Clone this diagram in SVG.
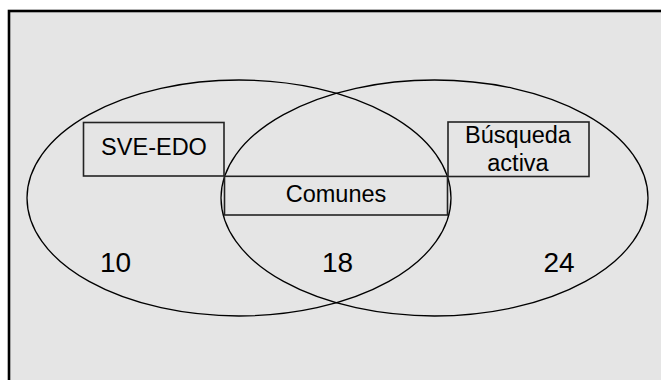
<svg xmlns="http://www.w3.org/2000/svg" width="661" height="380" viewBox="0 0 661 380">
<style>
.frame{fill:#e5e5e5;stroke:#000;stroke-width:2.6}
.set{fill:none;stroke:#000;stroke-width:1.3}
.box{fill:#e5e5e5;stroke:#222;stroke-width:1.6}
.lbl{font-family:"Liberation Sans",Arial,sans-serif;font-size:23.5px;fill:#000;text-anchor:middle}
.num{font-family:"Liberation Sans",Arial,sans-serif;font-size:28px;fill:#000;text-anchor:middle}
</style>
<rect class="frame" x="9" y="11" width="670" height="390"/>
<g id="sets">
<ellipse id="set-sve" class="set" cx="239" cy="198" rx="212" ry="118"/>
<ellipse id="set-busqueda" class="set" cx="434.5" cy="198" rx="213.5" ry="118"/>
</g>
<g id="node-sve">
<rect class="box" x="83.5" y="122.5" width="140.5" height="53.5"/>
<text class="lbl" x="154" y="155">SVE-EDO</text>
</g>
<g id="node-busqueda">
<rect class="box" x="448" y="122" width="141" height="54.5"/>
<text class="lbl" x="518" y="142.7">Búsqueda</text>
<text class="lbl" x="518" y="171">activa</text>
</g>
<g id="node-comunes">
<rect class="box" x="224.5" y="176.3" width="223" height="38.7"/>
<text class="lbl" x="336" y="201.7">Comunes</text>
</g>
<g id="counts">
<text class="num" x="115.5" y="272">10</text>
<text class="num" x="337.5" y="272">18</text>
<text class="num" x="559" y="272">24</text>
</g>
<g id="connectors"></g>
</svg>
